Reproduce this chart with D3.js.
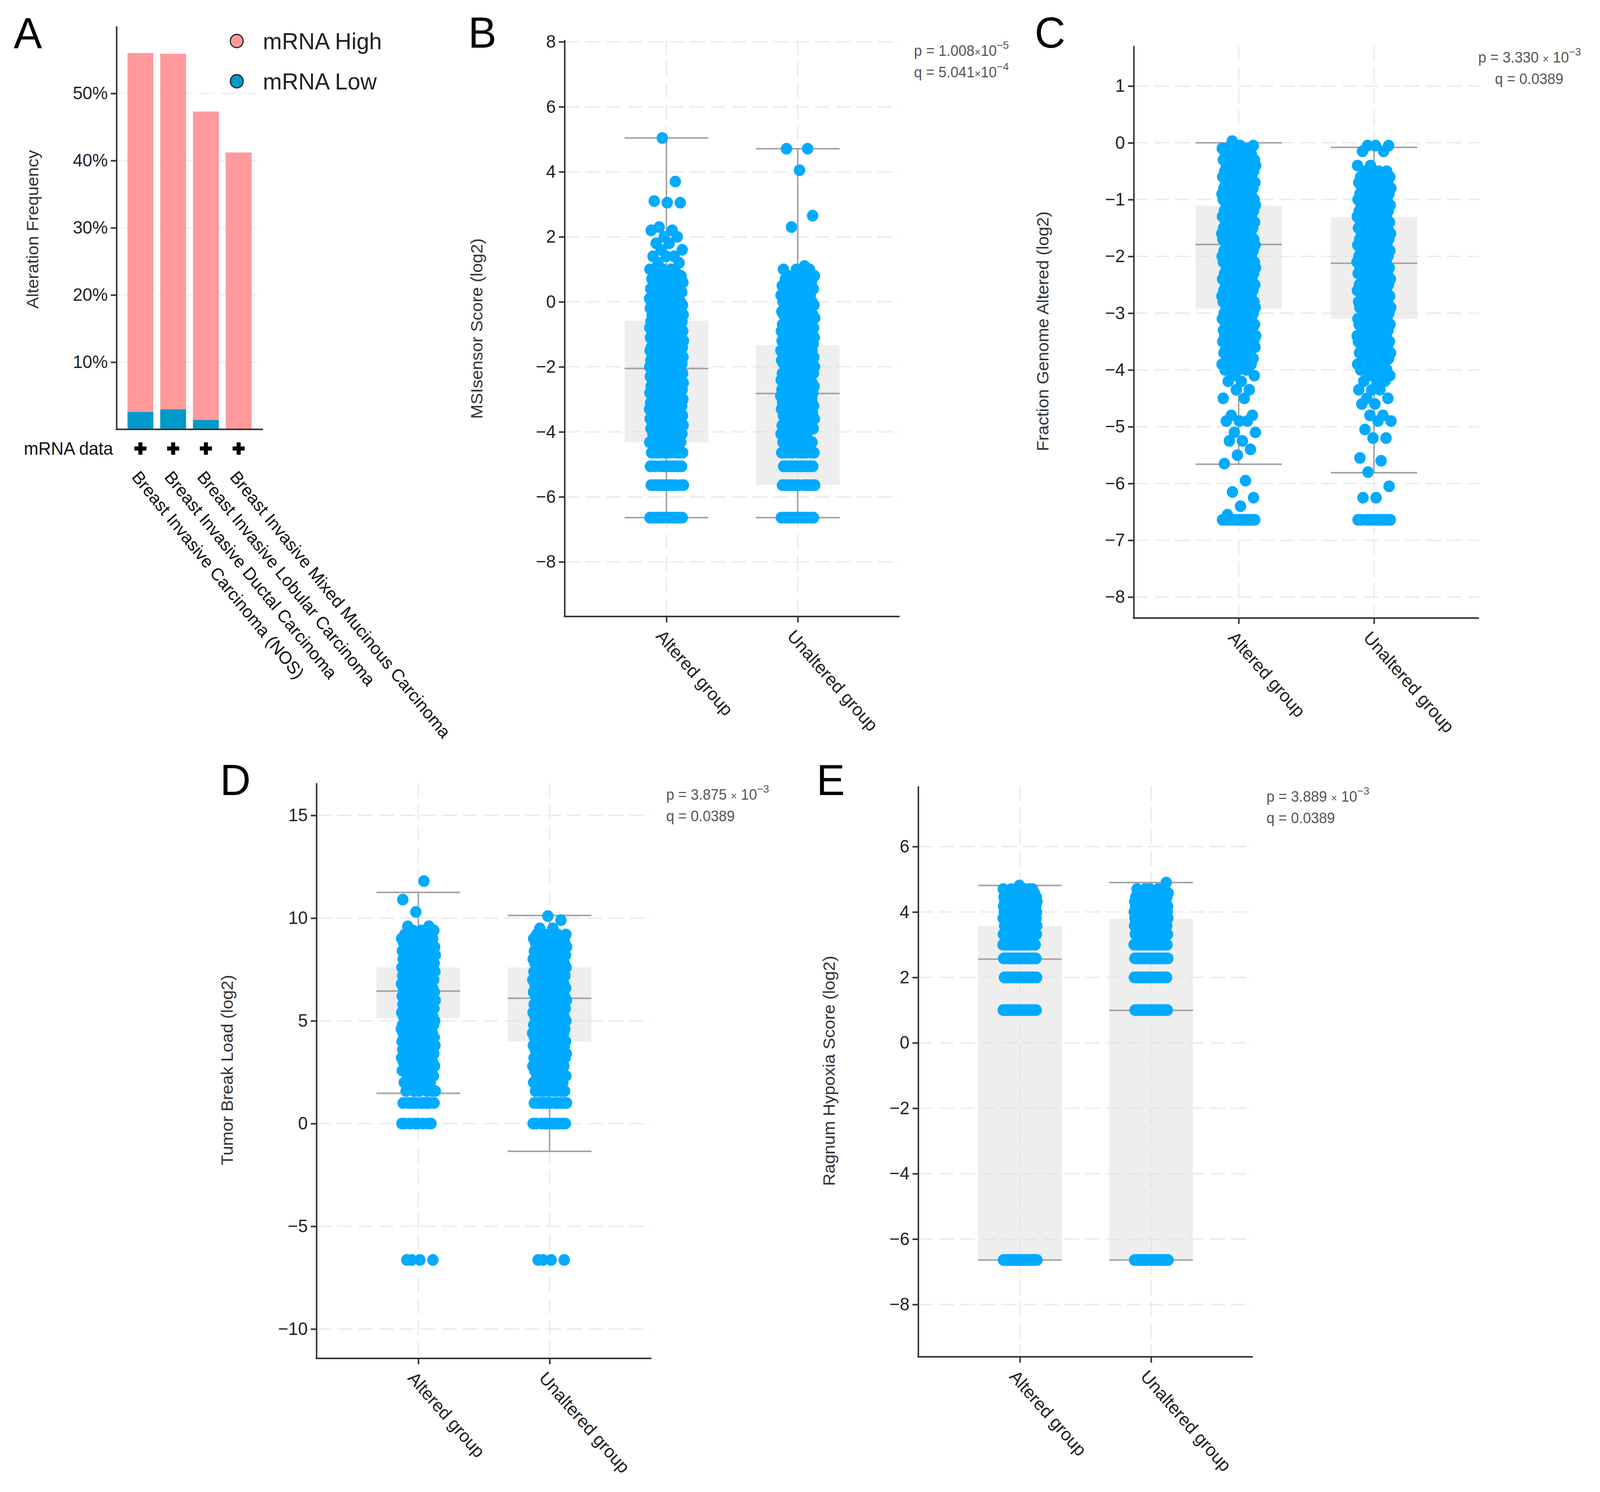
<!DOCTYPE html>
<html>
<head>
<meta charset="utf-8">
<script src="https://cdn.jsdelivr.net/npm/d3@7"></script>
<style>
  html, body { margin: 0; padding: 0; background: #fff; overflow: hidden; }
  svg { display: block; width: 100vw; height: 100vh; }
</style>
</head>
<body>
<script>
// ---------- data: panel A ----------
var cancerTypes = ["Breast Invasive Carcinoma (NOS)", "Breast Invasive Ductal Carcinoma",
                   "Breast Invasive Lobular Carcinoma", "Breast Invasive Mixed Mucinous Carcinoma"];
var mrnaLowPct  = [2.6, 3.0, 1.4, 0.0];
var mrnaHighPct = [53.4, 52.9, 45.9, 41.2];
var pctTicks = [10, 20, 30, 40, 50];
var legendLabels = ["mRNA High", "mRNA Low"];

// ---------- data: panels B-E ----------
var groups = ["Altered group", "Unaltered group"];

// box stats: [q1, median, q3, lower whisker, upper whisker]
var msiTicks = [-8, -6, -4, -2, 0, 2, 4, 6, 8];
var msiBoxAltered   = [-4.32, -2.05, -0.58, -6.64, 5.04];
var msiBoxUnaltered = [-5.63, -2.82, -1.34, -6.64, 4.71];
var msiAlteredY = [-6.64, -5.64, -5.06, -4.64, -4.32, -4.06,
  -3.9, -3.8, -3.7, -3.6, -3.5, -3.4, -3.3, -3.2, -3.1, -3.0,
  -2.9, -2.8, -2.7, -2.6, -2.5, -2.4, -2.3, -2.2, -2.1, -2.0,
  -1.9, -1.8, -1.7, -1.6, -1.5, -1.4, -1.3, -1.2, -1.1, -1.0,
  -0.9, -0.8, -0.7, -0.6, -0.5, -0.4, -0.3, -0.2, -0.1, 0.0,
  0.1, 0.2, 0.3, 0.4, 0.5,
  0.6, 0.7, 0.8, 0.9, 1.0, 1.2, 1.4, 1.6, 1.8, 2.0, 2.2, 2.3, 3.05, 3.1, 3.7, 5.04];
var msiAlteredN = [18, 12, 12, 12, 9, 8,
  7, 7, 7, 7, 7, 7, 7, 7, 7, 7,
  7, 7, 7, 7, 7, 7, 7, 7, 7, 7,
  7, 7, 7, 7, 7, 7, 7, 7, 7, 7,
  7, 7, 7, 7, 6, 6, 6, 6, 6, 6,
  5, 5, 5, 5, 4,
  4, 3, 3, 3, 3, 2, 3, 2, 2, 2, 2, 1, 2, 1, 1, 1];
var msiUnalteredY = [-6.64, -5.64, -5.06, -4.64, -4.32, -4.06,
  -3.9, -3.8, -3.7, -3.6, -3.5, -3.4, -3.3, -3.2, -3.1, -3.0,
  -2.9, -2.8, -2.7, -2.6, -2.5, -2.4, -2.3, -2.2, -2.1, -2.0,
  -1.9, -1.8, -1.7, -1.6, -1.5, -1.4, -1.3, -1.2, -1.1, -1.0,
  -0.9, -0.8, -0.7, -0.6, -0.5, -0.4, -0.3, -0.2, -0.1, 0.0,
  0.1, 0.2, 0.3, 0.4, 0.5,
  0.6, 0.7, 0.8, 1.0, 1.1, 2.3, 2.65, 4.05, 4.71];
var msiUnalteredN = [16, 12, 12, 10, 8, 6,
  6, 6, 5, 4, 4, 4, 5, 6, 6, 6,
  6, 6, 6, 6, 6, 6, 6, 6, 6, 6,
  6, 6, 6, 6, 6, 6, 6, 6, 6, 6,
  6, 6, 6, 6, 5, 5, 5, 5, 5, 5,
  4, 4, 4, 3, 3,
  3, 3, 4, 3, 1, 1, 1, 1, 2];

var fgaTicks = [-8, -7, -6, -5, -4, -3, -2, -1, 0, 1];
var fgaBoxAltered   = [-2.92, -1.79, -1.11, -5.66, 0.0];
var fgaBoxUnaltered = [-3.10, -2.12, -1.31, -5.81, -0.08];
var fgaAlteredY = [0.03, -0.05,
  -0.1, -0.2, -0.3, -0.4, -0.5, -0.6, -0.7, -0.8, -0.9, -1.0,
  -1.1, -1.2, -1.3, -1.4, -1.5, -1.6, -1.7, -1.8, -1.9, -2.0,
  -2.1, -2.2, -2.3, -2.4, -2.5, -2.6, -2.7, -2.8, -2.9, -3.0,
  -3.1, -3.2, -3.3, -3.4, -3.5, -3.6, -3.7, -3.8, -3.9,
  -4.0, -4.1, -4.2, -4.35, -4.5, -4.8, -4.9, -5.1, -5.25, -5.4, -5.5, -5.65,
  -5.95, -6.15, -6.25, -6.4, -6.55, -6.64];
var fgaAlteredN = [1, 2,
  4, 6, 7, 8, 8, 8, 8, 8, 8, 8,
  8, 8, 8, 8, 8, 8, 8, 8, 8, 8,
  8, 8, 8, 8, 8, 8, 8, 8, 8, 8,
  8, 8, 8, 8, 8, 7, 6, 5, 4,
  3, 2, 2, 2, 2, 2, 3, 2, 2, 1, 1, 1,
  1, 1, 1, 1, 1, 14];
var fgaUnalteredY = [-0.05, -0.15, -0.4,
  -0.5, -0.6, -0.7, -0.8, -0.9, -1.0,
  -1.1, -1.2, -1.3, -1.4, -1.5, -1.6, -1.7, -1.8, -1.9, -2.0,
  -2.1, -2.2, -2.3, -2.4, -2.5, -2.6, -2.7, -2.8, -2.9, -3.0,
  -3.1, -3.2, -3.3, -3.4, -3.5, -3.6, -3.7, -3.8, -3.9, -4.0,
  -4.1, -4.2, -4.35, -4.5, -4.6, -4.8, -4.9, -5.05, -5.2, -5.55, -5.6, -5.8,
  -6.05, -6.25, -6.64];
var fgaUnalteredN = [3, 2, 2,
  4, 5, 7, 7, 7, 7,
  7, 7, 7, 7, 7, 7, 7, 7, 7, 7,
  7, 7, 7, 7, 7, 7, 7, 7, 7, 7,
  7, 7, 7, 7, 7, 7, 6, 5, 4, 4,
  3, 3, 3, 2, 2, 2, 2, 1, 2, 1, 1, 1,
  1, 2, 12];

var tblTicks = [-10, -5, 0, 5, 10, 15];
var tblBoxAltered   = [5.13, 6.45, 7.6, 1.47, 11.25];
var tblBoxUnaltered = [4.0, 6.1, 7.6, -1.35, 10.13];
var tblAlteredY = [-6.64, 0, 1.0, 1.58, 2.0, 2.32, 2.58,
  2.8, 3.0, 3.2, 3.4, 3.6, 3.8, 4.0, 4.2, 4.4, 4.6, 4.8,
  5.0, 5.2, 5.4, 5.6, 5.8, 6.0, 6.2, 6.4, 6.6, 6.8,
  7.0, 7.2, 7.4, 7.6, 7.8, 8.0, 8.2, 8.4, 8.6, 8.8,
  9.0, 9.2, 9.4, 9.6, 10.3, 10.9, 11.8];
var tblAlteredN = [4, 8, 10, 6, 6, 5, 6,
  6, 7, 8, 8, 8, 8, 8, 8, 8, 8, 8,
  8, 8, 8, 8, 8, 8, 8, 8, 8, 8,
  8, 8, 8, 8, 8, 8, 8, 8, 8, 7,
  6, 5, 4, 2, 1, 1, 1];
var tblUnalteredY = [-6.64, 0, 1.0, 1.58, 2.0, 2.32, 2.58,
  2.8, 3.0, 3.2, 3.4, 3.6, 3.8, 4.0, 4.2, 4.4, 4.6, 4.8,
  5.0, 5.2, 5.4, 5.6, 5.8, 6.0, 6.2, 6.4, 6.6, 6.8,
  7.0, 7.2, 7.4, 7.6, 7.8, 8.0, 8.2, 8.4, 8.6, 8.8,
  9.0, 9.2, 9.5, 9.9, 10.1];
var tblUnalteredN = [4, 12, 12, 8, 8, 6, 6,
  6, 7, 7, 7, 7, 7, 7, 7, 7, 7, 7,
  7, 7, 7, 7, 7, 7, 7, 7, 7, 7,
  7, 7, 7, 7, 7, 7, 7, 7, 7, 7,
  6, 4, 2, 1, 1];

var hypTicks = [-8, -6, -4, -2, 0, 2, 4, 6];
var hypBoxAltered   = [-6.64, 2.56, 3.57, -6.64, 4.81];
var hypBoxUnaltered = [-6.64, 0.99, 3.79, -6.64, 4.90];
var hypAlteredY = [-6.64, 1.0, 2.0, 2.58, 3.0, 3.32, 3.58, 3.81, 4.0, 4.17, 4.32, 4.46, 4.58, 4.7, 4.81];
var hypAlteredN = [40, 24, 24, 24, 24, 24, 24, 24, 22, 20, 18, 14, 10, 6, 1];
var hypUnalteredY = [-6.64, 1.0, 2.0, 2.58, 3.0, 3.32, 3.58, 3.81, 4.0, 4.17, 4.32, 4.46, 4.58, 4.7, 4.90];
var hypUnalteredN = [36, 22, 22, 22, 22, 22, 22, 22, 20, 18, 16, 12, 8, 4, 1];

// p / q values: [mantissa, exponent]
var msiP = ["1.008", "\u22125"], msiQ = ["5.041", "\u22124"];
var fgaP = ["3.330", "\u22123"], fgaQ = ["0.0389", null];
var tblP = ["3.875", "\u22123"], tblQ = ["0.0389", null];
var hypP = ["3.889", "\u22123"], hypQ = ["0.0389", null];

// ---------- drawing ----------
var W = 4217, H = 3819;
var FONT = '"Liberation Sans", Arial, Helvetica, sans-serif';
var dotColor = "#00aaff";

// viewBox so the whole figure fills the window whatever its css size
var svg = d3.select("body").append("svg")
    .attr("viewBox", "0 0 " + W + " " + H)
    .attr("preserveAspectRatio", "none")
    .style("background", "#fff")
    .attr("font-family", FONT);

function styleAxis(sel) {
  sel.attr("font-family", FONT).attr("font-size", 46);
  sel.select(".domain").attr("stroke", "#333").attr("stroke-width", 4);
  sel.selectAll(".tick line").attr("stroke", "#333").attr("stroke-width", 4);
  sel.selectAll(".tick text").attr("fill", "#222");
}

function letter(t, x, y) {
  svg.append("text").attr("x", x).attr("y", y)
     .attr("font-size", 112).attr("fill", "#000").text(t);
}

function yTitle(t, x, y) {
  svg.append("text")
     .attr("transform", "translate(" + x + "," + y + ") rotate(-90)")
     .attr("dy", "0.35em")
     .attr("text-anchor", "middle")
     .attr("font-size", 44)
     .attr("fill", "#333")
     .text(t);
}

// ---- panel A ----
letter("A", 36, 123);
var ya = d3.scaleLinear().domain([0, 60]).range([1099, 67]);
var xa = d3.scaleBand().domain(cancerTypes).range([336, 663]).paddingInner(0.21).paddingOuter(0);
var gA = svg.append("g");

gA.selectAll(".grid").data(pctTicks).enter().append("line")
  .attr("x1", 307).attr("x2", 693)
  .attr("y1", function(d) { return ya(d); })
  .attr("y2", function(d) { return ya(d); })
  .attr("stroke", "#eeeeee").attr("stroke-width", 3).attr("stroke-dasharray", "39,16");

var rowsA = cancerTypes.map(function(c, i) {
  return {type: c, low: mrnaLowPct[i], high: mrnaHighPct[i]};
});
var stackA = d3.stack().keys(["low", "high"])(rowsA);
var colA = {low: "#0099cc", high: "#ff999c"};

gA.selectAll(".layer").data(stackA).enter().append("g")
  .attr("fill", function(d) { return colA[d.key]; })
  .selectAll("rect").data(function(d) { return d; }).enter().append("rect")
  .attr("x", function(d) { return xa(d.data.type); })
  .attr("width", xa.bandwidth())
  .attr("y", function(d) { return ya(d[1]); })
  .attr("height", function(d) { return ya(d[0]) - ya(d[1]); });

var axA = gA.append("g").attr("transform", "translate(307,0)")
  .call(d3.axisLeft(ya).tickValues(pctTicks)
        .tickFormat(function(d) { return d + "%"; })
        .tickSize(15).tickSizeOuter(0).tickPadding(8));
styleAxis(axA);
gA.append("line").attr("x1", 305).attr("x2", 693).attr("y1", 1099).attr("y2", 1099)
  .attr("stroke", "#333").attr("stroke-width", 4);

yTitle("Alteration Frequency", 85, 587);

// legend
var legCol = [colA.high, colA.low];
var legY = [105, 208];
legendLabels.forEach(function(l, i) {
  gA.append("circle").attr("cx", 624).attr("cy", legY[i]).attr("r", 17)
    .attr("fill", legCol[i]).attr("stroke", "#222").attr("stroke-width", 3);
  gA.append("text").attr("x", 693).attr("y", legY[i]).attr("dy", "0.35em")
    .attr("font-size", 60).attr("fill", "#222").text(l);
});

// mRNA data row
gA.append("text").attr("x", 298).attr("y", 1148).attr("dy", "0.35em")
  .attr("text-anchor", "end").attr("font-size", 46).attr("fill", "#111").text("mRNA data");
gA.selectAll(".plus").data(cancerTypes).enter().append("path")
  .attr("transform", function(d) { return "translate(" + (xa(d) + xa.bandwidth() / 2) + ",1148)"; })
  .attr("d", d3.symbol(d3.symbolCross, 560))
  .attr("fill", "#000");

gA.selectAll(".ctype").data(cancerTypes).enter().append("text")
  .attr("transform", function(d) {
    return "translate(" + (xa(d) + xa.bandwidth() / 2 - 25) + ",1222) rotate(50)";
  })
  .attr("font-size", 45).attr("fill", "#111")
  .text(function(d) { return d; });

// ---- panels B-E ----
function statText(g, x, y, label, val, spaced) {
  var t = g.append("text").attr("x", x).attr("y", y)
    .attr("font-size", 38).attr("fill", "#555");
  t.append("tspan").text(label + " = " + val[0] + (val[1] && spaced ? " " : ""));
  if (val[1]) {
    t.append("tspan").attr("font-size", 28).text("\u00d7");
    t.append("tspan").text((spaced ? " " : "") + "10");
    t.append("tspan").attr("font-size", 28).attr("dy", -18).text(val[1]);
  }
}

function jitter(i) {
  var f = (i * 0.6180339887 + 0.31) % 1;
  return (f - 0.5) * 2;
}

function boxPanel(p) {
  letter(p.letter, p.lx, p.ly);
  var g = svg.append("g");
  var y = d3.scaleLinear().domain(p.domain).range([p.yBot, p.yTop]);
  var x = d3.scalePoint().domain(groups).range([p.x0, p.x1]).padding(0.776);
  var bw = 0.25 * (p.x1 - p.x0);

  // grid
  g.selectAll(".hg").data(p.ticks).enter().append("line")
    .attr("x1", p.x0).attr("x2", p.x1)
    .attr("y1", function(d) { return y(d); }).attr("y2", function(d) { return y(d); })
    .attr("stroke", "#e8e8e8").attr("stroke-width", 3).attr("stroke-dasharray", "39,16");
  g.selectAll(".vg").data(groups).enter().append("line")
    .attr("x1", function(d) { return x(d); }).attr("x2", function(d) { return x(d); })
    .attr("y1", p.yTop).attr("y2", p.yBot)
    .attr("stroke", "#e8e8e8").attr("stroke-width", 3).attr("stroke-dasharray", "39,16");

  groups.forEach(function(gr, gi) {
    var b = p.boxes[gi], cx = x(gr);
    g.append("rect").attr("x", cx - bw / 2).attr("width", bw)
      .attr("y", y(b[2])).attr("height", y(b[0]) - y(b[2]))
      .attr("fill", "#dedede").attr("fill-opacity", 0.5);
    // whiskers: lower whisker to q1, q3 to upper whisker
    [[b[3], b[0]], [b[2], b[4]]].forEach(function(s) {
      g.append("line").attr("x1", cx).attr("x2", cx).attr("y1", y(s[0])).attr("y2", y(s[1]))
        .attr("stroke", "#a3a3a3").attr("stroke-width", 4);
    });
    [b[3], b[4], b[1]].forEach(function(v) {
      g.append("line").attr("x1", cx - bw / 2).attr("x2", cx + bw / 2)
        .attr("y1", y(v)).attr("y2", y(v))
        .attr("stroke", "#a3a3a3").attr("stroke-width", 4);
    });
  });

  groups.forEach(function(gr, gi) {
    var cx = x(gr), pts = [];
    p.ys[gi].forEach(function(v, i) {
      for (var k = 0; k < p.ns[gi][i]; k++) pts.push(v);
    });
    g.append("g").selectAll("circle").data(pts).enter().append("circle")
      .attr("cx", function(d, i) { return cx + jitter(i) * 45; })
      .attr("cy", function(d) { return y(d); })
      .attr("r", 15)
      .attr("fill", dotColor);
  });

  var ay = g.append("g").attr("transform", "translate(" + p.x0 + ",0)")
    .call(d3.axisLeft(y).tickValues(p.ticks).tickFormat(d3.format("d"))
          .tickSize(15).tickSizeOuter(0).tickPadding(8));
  styleAxis(ay);
  var ax = g.append("g").attr("transform", "translate(0," + p.yBot + ")")
    .call(d3.axisBottom(x).tickFormat("").tickSize(15).tickSizeOuter(0));
  styleAxis(ax);
  ax.select(".domain").attr("d", "M" + (p.x0 - 2) + ",0H" + p.x1);

  g.selectAll(".xl").data(groups).enter().append("text")
    .attr("transform", function(d) {
      return "translate(" + (x(d) - 30) + "," + (p.yBot + 52) + ") rotate(48)";
    })
    .attr("font-size", 46).attr("fill", "#222")
    .text(function(d) { return d; });

  yTitle(p.title, p.tx, p.ty);
  statText(g, p.sx[0], p.sy[0], "p", p.pv, p.spaced);
  statText(g, p.sx[1], p.sy[1], "q", p.qv, p.spaced);
}

boxPanel({letter: "B", lx: 1234, ly: 122, x0: 1488, x1: 2371, yTop: 102, yBot: 1578,
  domain: [-9.68, 8.06], ticks: msiTicks, boxes: [msiBoxAltered, msiBoxUnaltered],
  ys: [msiAlteredY, msiUnalteredY], ns: [msiAlteredN, msiUnalteredN],
  title: "MSIsensor Score (log2)", tx: 1256, ty: 841,
  sx: [2409, 2409], sy: [143, 198], pv: msiP, qv: msiQ, spaced: false});

boxPanel({letter: "C", lx: 2727, ly: 122, x0: 2988, x1: 3898, yTop: 117, yBot: 1582,
  domain: [-8.37, 1.71], ticks: fgaTicks, boxes: [fgaBoxAltered, fgaBoxUnaltered],
  ys: [fgaAlteredY, fgaUnalteredY], ns: [fgaAlteredN, fgaUnalteredN],
  title: "Fraction Genome Altered (log2)", tx: 2748, ty: 848,
  sx: [3896, 3940], sy: [160, 215], pv: fgaP, qv: fgaQ, spaced: true});

boxPanel({letter: "D", lx: 580, ly: 2035, x0: 834, x1: 1717, yTop: 2004, yBot: 3477,
  domain: [-11.43, 16.58], ticks: tblTicks, boxes: [tblBoxAltered, tblBoxUnaltered],
  ys: [tblAlteredY, tblUnalteredY], ns: [tblAlteredN, tblUnalteredN],
  title: "Tumor Break Load (log2)", tx: 598, ty: 2739,
  sx: [1756, 1756], sy: [2047, 2102], pv: tblP, qv: tblQ, spaced: true});

boxPanel({letter: "E", lx: 2152, ly: 2035, x0: 2420, x1: 3302, yTop: 2012, yBot: 3473,
  domain: [-9.6, 7.85], ticks: hypTicks, boxes: [hypBoxAltered, hypBoxUnaltered],
  ys: [hypAlteredY, hypUnalteredY], ns: [hypAlteredN, hypUnalteredN],
  title: "Ragnum Hypoxia Score (log2)", tx: 2185, ty: 2741,
  sx: [3338, 3338], sy: [2052, 2107], pv: hypP, qv: hypQ, spaced: true});
</script>
</body>
</html>
